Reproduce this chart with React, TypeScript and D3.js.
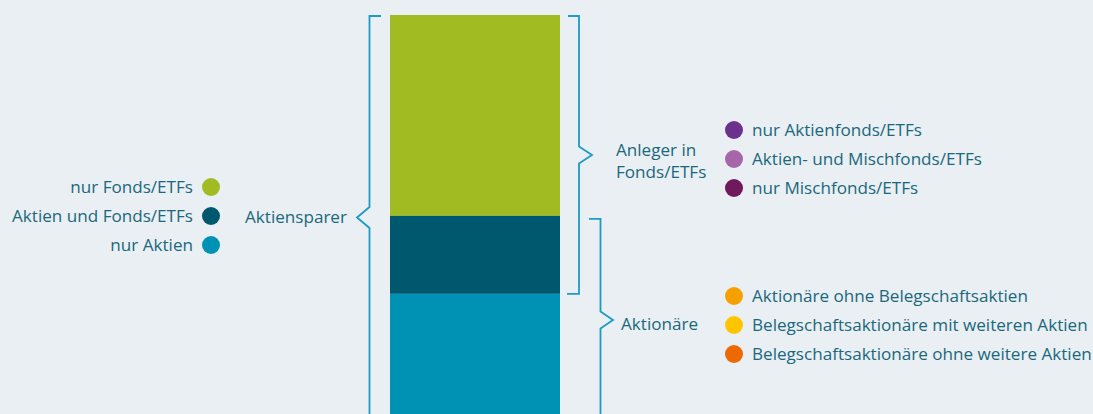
import React from "react";
import * as d3 from "d3";

const segments = ["nur Fonds/ETFs", "Aktien und Fonds/ETFs", "nur Aktien"];
const segmentValues = [5.15, 2.0, 3.2];
const segmentColors = ["#a0bc22", "#00586f", "#0092b5"];

const fondsLegend = ["nur Aktienfonds/ETFs", "Aktien- und Mischfonds/ETFs", "nur Mischfonds/ETFs"];
const fondsColors = ["#6c318c", "#a766a8", "#6e1a5c"];

const aktionaerLegend = [
  "Aktionäre ohne Belegschaftsaktien",
  "Belegschaftsaktionäre mit weiteren Aktien",
  "Belegschaftsaktionäre ohne weitere Aktien",
];
const aktionaerColors = ["#f5a000", "#ffc600", "#ee6a00"];

const W = 1093;
const H = 414;
const BG = "#eaeff3";
const TEXT = "#1a687d";
const BRACKET = "#1b9bc6";
const FONT = "'Open Sans', sans-serif";
const FS = 17.1;

export default function App() {
  const barTop = 15;
  const y = d3.scaleLinear().domain([0, 1]).range([0, 39]);
  const x = d3.scaleBand().domain(["Aktiensparer"]).range([390, 560]).padding(0);

  const stackData = [Object.fromEntries(segments.map((s, i) => [s, segmentValues[i]]))];
  const stacked = d3.stack<any>().keys(segments)(stackData);

  const bounds = stacked.map((s) => [barTop + y(s[0][0]), barTop + y(s[0][1])]);
  const fondsEnd = bounds[1][1];
  const aktienStart = bounds[1][0];

  const leftBracket = () => {
    const p = d3.path();
    const xv = 369.5;
    p.moveTo(381, barTop + 1);
    p.lineTo(xv, barTop + 1);
    p.lineTo(xv, 207);
    p.lineTo(357, 217.5);
    p.lineTo(xv, 228);
    p.lineTo(xv, H + 5);
    return p.toString();
  };
  const fondsBracket = () => {
    const p = d3.path();
    const xv = 579;
    const ny = 155;
    p.moveTo(568, barTop + 1);
    p.lineTo(xv, barTop + 1);
    p.lineTo(xv, ny - 8.5);
    p.lineTo(592, ny);
    p.lineTo(xv, ny + 8.5);
    p.lineTo(xv, fondsEnd);
    p.lineTo(567, fondsEnd);
    return p.toString();
  };
  const aktienBracket = () => {
    const p = d3.path();
    const xv = 600.5;
    const ny = 320;
    p.moveTo(589, aktienStart + 3);
    p.lineTo(xv, aktienStart + 3);
    p.lineTo(xv, ny - 8.5);
    p.lineTo(613, ny);
    p.lineTo(xv, ny + 8.5);
    p.lineTo(xv, H + 5);
    return p.toString();
  };

  const legendY = d3.scalePoint().domain(segments).range([187, 245]);
  const fondsY = d3.scalePoint().domain(fondsLegend).range([130, 188]);
  const aktY = d3.scalePoint().domain(aktionaerLegend).range([296, 354]);

  return (
    <svg
      width={W}
      height={H}
      style={{ position: "absolute", left: 0, top: 0, display: "block" }}
      fontFamily={FONT}
    >
      <rect width={W} height={H} fill={BG} />
      {stacked.map((s, i) => (
        <rect
          key={segments[i]}
          x={x("Aktiensparer")}
          width={x.bandwidth()}
          y={bounds[i][0]}
          height={bounds[i][1] - bounds[i][0]}
          fill={segmentColors[i]}
        />
      ))}
      <g fill="none" stroke={BRACKET} strokeWidth={1.8}>
        <path d={leftBracket()} />
        <path d={fondsBracket()} />
        <path d={aktienBracket()} />
      </g>

      {segments.map((s, i) => (
        <g key={s}>
          <circle cx={211} cy={legendY(s)} r={9} fill={segmentColors[i]} />
          <text x={193} y={legendY(s)} dy="0.35em" textAnchor="end" fontSize={FS} fill={TEXT}>
            {s}
          </text>
        </g>
      ))}
      <text x={245} y={217} dy="0.35em" fontSize={FS} fill={TEXT}>
        Aktiensparer
      </text>

      <text x={616} y={150} dy="0.35em" fontSize={FS} fill={TEXT}>
        Anleger in
      </text>
      <text x={616} y={172} dy="0.35em" fontSize={FS} fill={TEXT}>
        Fonds/ETFs
      </text>
      {fondsLegend.map((s, i) => (
        <g key={s}>
          <circle cx={734} cy={fondsY(s)} r={9} fill={fondsColors[i]} />
          <text x={752} y={fondsY(s)} dy="0.35em" fontSize={FS} fill={TEXT}>
            {s}
          </text>
        </g>
      ))}

      <text x={621} y={324} dy="0.35em" fontSize={FS} fill={TEXT}>
        Aktionäre
      </text>
      {aktionaerLegend.map((s, i) => (
        <g key={s}>
          <circle cx={734} cy={aktY(s)} r={9} fill={aktionaerColors[i]} />
          <text x={752} y={aktY(s)} dy="0.35em" fontSize={FS} fill={TEXT}>
            {s}
          </text>
        </g>
      ))}
    </svg>
  );
}
